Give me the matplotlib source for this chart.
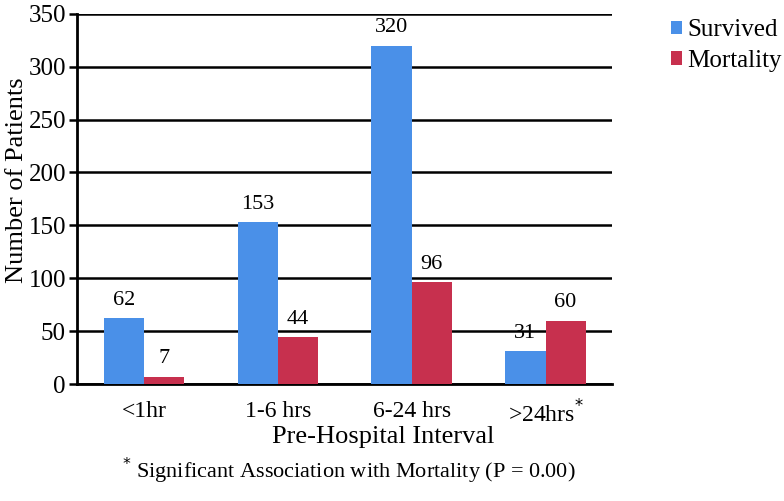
import matplotlib.pyplot as plt
import numpy as np

plt.rcParams['font.family'] = ['Liberation Serif', 'DejaVu Serif']

categories = ['<1hr', '1-6 hrs', '6-24 hrs', '>24hrs$^{*}$']
survived = [62, 153, 320, 31]
mortality = [7, 44, 96, 60]

blue = '#4a90e8'
red = '#c7304e'

fig = plt.figure(figsize=(7.84, 5.01), dpi=100)
ax = fig.add_axes([0.0982, 0.2335, 0.683, 0.739])

x = np.arange(len(categories))
w = 0.3
b1 = ax.bar(x - w/2, survived, w, color=blue, label='Survived', zorder=3)
b2 = ax.bar(x + w/2, mortality, w, color=red, label='Mortality', zorder=3)

for bars, vals in [(b1, survived), (b2, mortality)]:
    for r, v in zip(bars, vals):
        ax.text(r.get_x() + r.get_width()/2, v + 8, str(v), ha='center', va='bottom', fontsize=16)

ax.set_xlim(-0.5, 3.5)
ax.set_ylim(0, 350)
ax.set_yticks(range(0, 351, 50))
ax.yaxis.grid(True, color='black', linewidth=1.8, zorder=0)
ax.set_xticks(x)
ax.set_xticklabels(categories, fontsize=17)
ax.tick_params(axis='x', length=0, pad=12)
ax.tick_params(axis='y', labelsize=18, width=1.8, length=6, direction='out', pad=2)
for s in ['top', 'right']:
    ax.spines[s].set_visible(False)
ax.spines['left'].set_linewidth(2)
ax.spines['bottom'].set_linewidth(2)

ax.set_ylabel('Number of Patients', fontsize=19)
ax.yaxis.set_label_coords(-0.092, 0.55)
ax.set_xlabel('Pre-Hospital Interval', fontsize=19)
ax.xaxis.set_label_coords(0.572, -0.113)

ax.legend(loc='upper left', bbox_to_anchor=(1.09, 1.012), frameon=False, fontsize=18,
          handlelength=0.45, handleheight=0.45, handletextpad=0.2, labelspacing=0.35,
          borderaxespad=0)

fig.text(0.445, 0.045, '$^{*}$ Significant Association with Mortality (P = 0.00)', ha='center', fontsize=16)

fig.savefig('out.png', dpi=100)
